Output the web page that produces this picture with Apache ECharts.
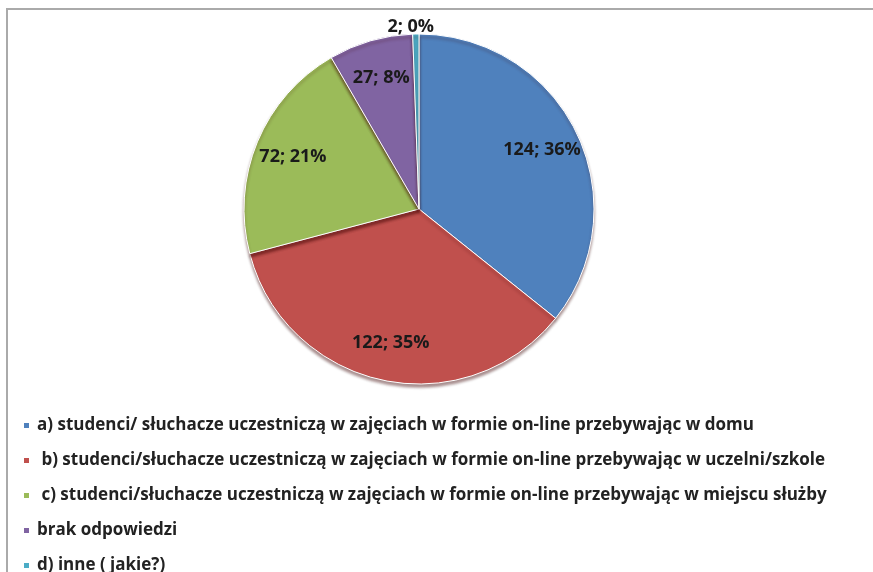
<!DOCTYPE html>
<html>
<head>
<meta charset="utf-8">
<script src="https://cdn.jsdelivr.net/npm/echarts@6/dist/echarts.min.js"></script>
<style>
	html, body { margin: 0; padding: 0; background: #fff; }
	#main { width: 873px; height: 572px; }
</style>
</head>
<body>
<div id="main"></div>
<script>
// dane z wykresu
var categories = [
	'a) studenci/ słuchacze uczestniczą w zajęciach w formie on-line przebywając w domu',
	' b) studenci/słuchacze uczestniczą w zajęciach w formie on-line przebywając w uczelni/szkole',
	' c) studenci/słuchacze uczestniczą w zajęciach w formie on-line przebywając w miejscu służby',
	'brak odpowiedzi',
	'd) inne ( jakie?)'
];
var values = [124, 122, 72, 27, 2];
// procenty tak jak na etykietach oryginału
var percents = [36, 35, 21, 8, 0];
var colors = ['#4F81BD', '#C0504D', '#9BBB59', '#8064A2', '#4BACC6'];

(function() {
	var myChart = echarts.init(document.getElementById('main'));
	var total = values.reduce(function(a, b) { return a + b; }, 0);

	var sliceData = [];
	var labelData = [];
	for (var i = 0; i < values.length; i++) {
		sliceData.push({ name : categories[i], value : values[i] });
		var item = { name : categories[i], value : values[i] };
		if (values[i] / total < 0.03) {
			item.label = { position : 'outside' };
			item.labelLine = { show : false, length : 7, length2 : 0 };
		}
		labelData.push(item);
	}

	myChart.setOption({
		color : colors,
		animation : false,
		graphic : [ {
			type : 'rect',
			shape : { x : 7, y : 9, width : 900, height : 600 },
			style : { fill : 'none', stroke : '#aaaaaa', lineWidth : 2 },
			silent : true
		} ],
		legend : {
			orient : 'vertical',
			left : 17,
			top : 412,
			height : 170,
			itemWidth : 7,
			itemHeight : 7,
			itemGap : 18,
			icon : 'rect',
			data : categories,
			textStyle : {
				fontFamily : 'Open Sans',
				fontWeight : 'bold',
				fontSize : 17,
				color : '#222',
				padding : [0, 0, 0, 2]
			}
		},
		series : [ {
			name : 'slices',
			type : 'pie',
			center : [ 419, 209 ],
			radius : [ 0, 175 ],
			startAngle : 90,
			clockwise : true,
			label : { show : false },
			labelLine : { show : false },
			itemStyle : {
				borderColor : '#ffffff',
				borderWidth : 1,
				shadowColor : 'rgba(60,0,0,0.45)',
				shadowBlur : 3,
				shadowOffsetY : 3
			},
			emphasis : { disabled : true },
			data : sliceData
		}, {
			name : 'labels',
			type : 'pie',
			center : [ 419, 209 ],
			radius : [ 92, 175 ],
			startAngle : 90,
			clockwise : true,
			silent : true,
			itemStyle : { color : 'rgba(0,0,0,0)' },
			label : {
				show : true,
				position : 'inside',
				fontFamily : 'Open Sans',
				fontWeight : 'bold',
				fontSize : 18,
				color : '#1a1a1a',
				formatter : function(p) {
					return p.value + '; ' + percents[p.dataIndex] + '%';
				}
			},
			labelLine : { show : false },
			labelLayout : function(params) {
				if (values[params.dataIndex] / total < 0.03) {
					return { align : 'center' };
				}
			},
			emphasis : { disabled : true },
			data : labelData
		} ]
	});
})();
</script>
</body>
</html>
